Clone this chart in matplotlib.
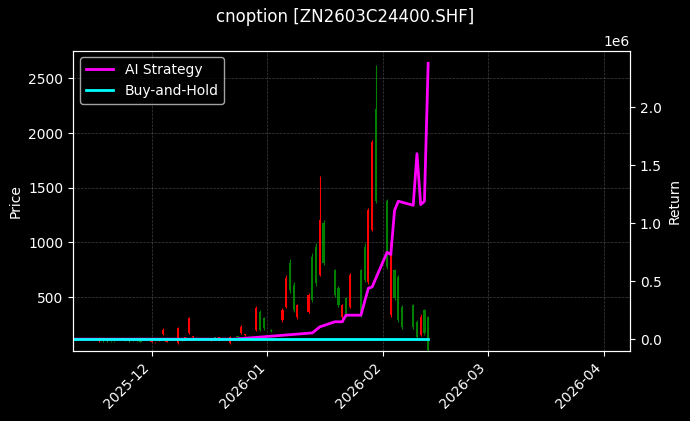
import numpy as np
import pandas as pd
import matplotlib
matplotlib.use("Agg")
import matplotlib.pyplot as plt
import matplotlib.dates as mdates

plt.style.use("dark_background")

# trading days (Jan 1 holiday removed)
dates = [d for d in pd.bdate_range("2025-11-17", "2026-02-13") if d != pd.Timestamp("2026-01-01")]

opens = [95, 105, 100, 98, 96, 100, 115, 100, 98, 95,
         90, 85, 100, 160, 90, 80, 110, 120, 170, 130, 120, 110, 100, 130, 120,
         80, 110, 140, 170, 150, 200, 360, 310, 200,
         290, 411, 808, 610, 320, 366, 869, 960, 701, 1174,
         747, 579, 320, 488, 411, 747, 960, 640, 1113, 2218,
         1380, 335, 747, 686, 411, 427, 274, 153, 381, 320]
closes = [100, 95, 98, 96, 95, 98, 95, 98, 95, 92,
          95, 90, 110, 200, 95, 215, 100, 130, 310, 140, 115, 120, 110, 125, 130,
          130, 120, 135, 230, 160, 400, 200, 215, 190,
          381, 671, 564, 381, 427, 518, 472, 625, 1204, 808,
          518, 427, 427, 335, 701, 335, 656, 1296, 1918, 1380,
          777, 991, 488, 290, 229, 229, 138, 320, 168, 17]
highs = [105, 110, 105, 102, 100, 104, 120, 104, 100, 98,
         98, 92, 115, 215, 100, 230, 115, 135, 320, 145, 125, 125, 115, 135, 135,
         140, 125, 145, 240, 165, 420, 380, 320, 205,
         400, 700, 850, 640, 440, 540, 900, 990, 1605, 1200,
         760, 600, 440, 500, 720, 760, 990, 1310, 1940, 2619,
         1400, 1010, 760, 700, 430, 440, 290, 340, 390, 330]
lows = [90, 90, 92, 92, 90, 94, 88, 94, 90, 88,
        85, 80, 95, 150, 85, 70, 95, 115, 160, 125, 110, 105, 95, 120, 115,
        70, 105, 130, 160, 145, 190, 190, 200, 180,
        270, 400, 540, 360, 300, 350, 450, 600, 690, 790,
        500, 410, 300, 320, 400, 320, 640, 620, 1100, 1360,
        760, 320, 470, 270, 210, 210, 120, 140, 150, 0]

strat_dates = pd.to_datetime(["2025-11-10", "2025-12-23", "2026-01-13", "2026-01-15", "2026-01-19",
                              "2026-01-21", "2026-01-22", "2026-01-26", "2026-01-28", "2026-01-29",
                              "2026-02-02", "2026-02-03", "2026-02-04", "2026-02-05", "2026-02-09",
                              "2026-02-10", "2026-02-11", "2026-02-12", "2026-02-13"])
strat_ret = [0, 0, 0.054, 0.106, 0.15, 0.15, 0.207, 0.207, 0.44, 0.45,
             0.75, 0.73, 1.11, 1.19, 1.155, 1.6, 1.16, 1.19, 2.38]
bh_dates = pd.to_datetime(["2025-11-10", "2026-02-13"])
bh_ret = [0, 0]

fig, ax = plt.subplots(figsize=(6.9, 4.21), dpi=100)
fig.patch.set_facecolor("black")
ax.set_facecolor("black")

x = mdates.date2num(dates)
for xi, o, c, h, l in zip(x, opens, closes, highs, lows):
    col = "red" if c >= o else "green"
    ax.vlines(xi, l, h, color=col, linewidth=0.8)
    ax.bar(xi, abs(c - o) or 1, bottom=min(o, c), width=0.6, color=col)

ax.set_ylabel("Price")
ax.set_ylim(5, 2755)
ax.set_xlim(pd.Timestamp("2025-11-10"), pd.Timestamp("2026-04-08"))
ax.grid(True, color="gray", linestyle="--", linewidth=0.5, alpha=0.5)
ax.xaxis.set_major_locator(mdates.MonthLocator())
ax.xaxis.set_major_formatter(mdates.DateFormatter("%Y-%m"))
plt.setp(ax.get_xticklabels(), rotation=45, ha="right")

ax2 = ax.twinx()
ax2.plot(strat_dates, np.array(strat_ret) * 1e6, color="magenta", linewidth=2, label="AI Strategy")
ax2.plot(bh_dates, np.array(bh_ret) * 1e6, color="cyan", linewidth=2, label="Buy-and-Hold")
ax2.set_ylim(-0.103e6, 2.49e6)
ax2.set_ylabel("Return")
ax2.legend(loc="upper left")

fig.suptitle("cnoption [ZN2603C24400.SHF]")
fig.subplots_adjust(left=0.106, right=0.913, top=0.88, bottom=0.166)
fig.savefig("out.png")
